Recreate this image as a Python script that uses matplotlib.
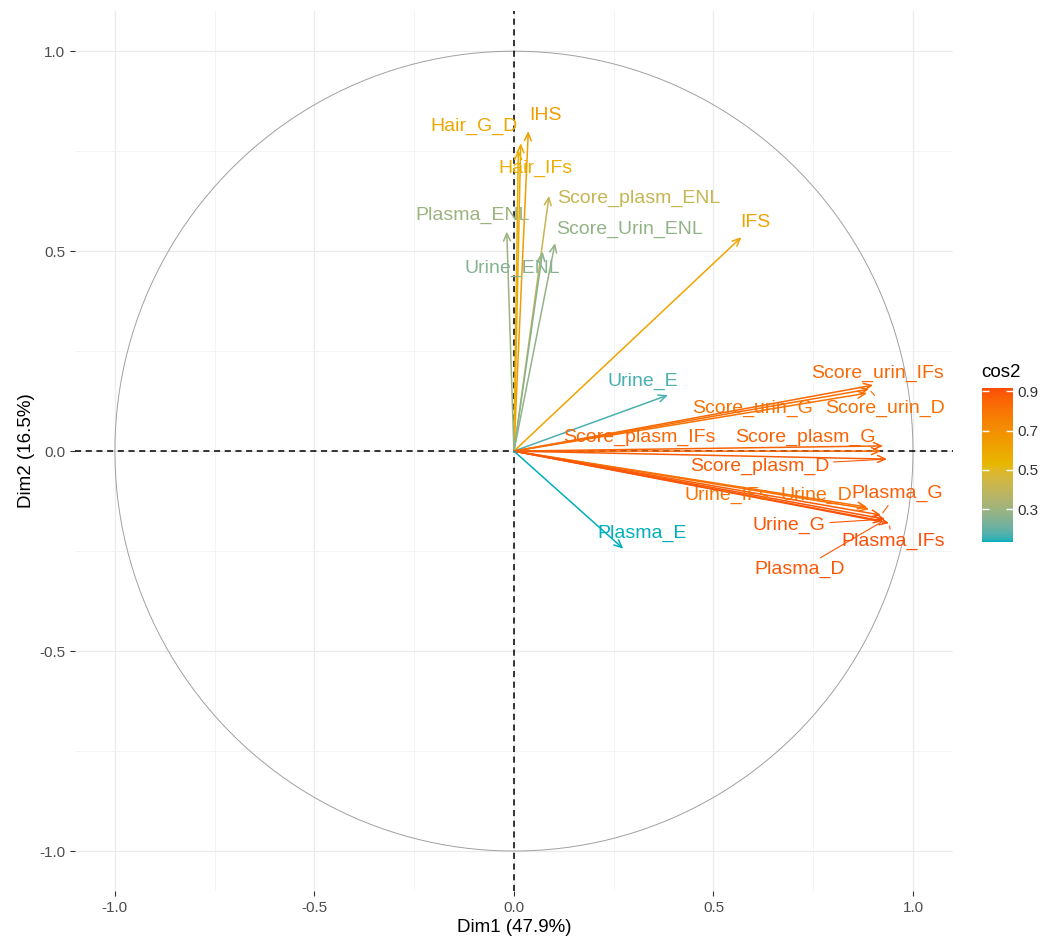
import numpy as np
import matplotlib.pyplot as plt
from matplotlib.colors import ListedColormap, Normalize, to_rgb
from matplotlib.cm import ScalarMappable

plt.rcParams['font.family'] = ['Liberation Sans', 'DejaVu Sans']
plt.rcParams['axes.unicode_minus'] = False

# PCA variable coordinates
variables = ["Hair_G_D", "IHS", "Hair_IFs", "Score_plasm_ENL", "Plasma_ENL",
             "Score_Urin_ENL", "Urine_ENL", "IFS", "Urine_E", "Score_urin_IFs",
             "Score_urin_G", "Score_urin_D", "Score_plasm_IFs", "Score_plasm_G",
             "Score_plasm_D", "Urine_IFs", "Urine_D", "Plasma_G", "Urine_G",
             "Plasma_IFs", "Plasma_D", "Plasma_E"]
dim1 = [0.017, 0.036, 0.011, 0.088, -0.018, 0.103, 0.072, 0.570, 0.386, 0.900,
        0.885, 0.890, 0.920, 0.925, 0.935, 0.885, 0.890, 0.920, 0.930, 0.940,
        0.925, 0.274]
dim2 = [0.770, 0.800, 0.753, 0.638, 0.549, 0.520, 0.499, 0.535, 0.140, 0.165,
        0.145, 0.155, 0.000, 0.013, -0.020, -0.140, -0.145, -0.160, -0.170,
        -0.180, -0.175, -0.244]
pct_dim1 = 47.9
pct_dim2 = 16.5
gradient_cols = ["#00AFBB", "#E7B800", "#FC4E07"]

# label placement (repel-like offsets from arrow tips, in data units)
label_offsets = {
    "Hair_G_D": (-0.117, 0.042), "IHS": (0.042, 0.040), "Hair_IFs": (0.042, -0.046),
    "Score_plasm_ENL": (0.225, -0.005), "Plasma_ENL": (-0.085, 0.041),
    "Score_Urin_ENL": (0.187, 0.035), "Urine_ENL": (-0.075, -0.042),
    "IFS": (0.036, 0.037), "Urine_E": (-0.063, 0.035),
    "Score_urin_IFs": (0.011, 0.030), "Score_urin_G": (-0.287, -0.037),
    "Score_urin_D": (0.041, -0.047), "Score_plasm_IFs": (-0.605, 0.035),
    "Score_plasm_G": (-0.194, 0.022), "Score_plasm_D": (-0.319, -0.017),
    "Urine_IFs": (-0.351, 0.030), "Urine_D": (-0.132, 0.035),
    "Plasma_G": (0.041, 0.055), "Urine_G": (-0.240, -0.015),
    "Plasma_IFs": (0.009, -0.047), "Plasma_D": (-0.209, -0.122),
    "Plasma_E": (0.046, 0.039),
}
leaders = ["Score_urin_D", "Score_plasm_G", "Score_plasm_D", "Urine_G",
           "Plasma_G", "Plasma_IFs", "Plasma_D"]


# ggplot-like gradient: interpolate in CIELAB
def to_lab(rgb):
    rgb = np.asarray(rgb, dtype=float)
    lin = np.where(rgb <= 0.04045, rgb / 12.92, ((rgb + 0.055) / 1.055) ** 2.4)
    m = np.array([[0.4124, 0.3576, 0.1805],
                  [0.2126, 0.7152, 0.0722],
                  [0.0193, 0.1192, 0.9505]])
    xyz = m @ lin / np.array([0.95047, 1.0, 1.08883])
    f = np.where(xyz > 0.008856, np.cbrt(xyz), 7.787 * xyz + 16 / 116)
    return np.array([116 * f[1] - 16, 500 * (f[0] - f[1]), 200 * (f[1] - f[2])])


def from_lab(lab):
    L, a, b = lab
    fy = (L + 16) / 116
    fx = fy + a / 500
    fz = fy - b / 200
    f = np.array([fx, fy, fz])
    xyz = np.where(f ** 3 > 0.008856, f ** 3, (f - 16 / 116) / 7.787)
    xyz = xyz * np.array([0.95047, 1.0, 1.08883])
    m = np.array([[3.2406, -1.5372, -0.4986],
                  [-0.9689, 1.8758, 0.0415],
                  [0.0557, -0.2040, 1.0570]])
    lin = m @ xyz
    rgb = np.where(lin <= 0.0031308, 12.92 * lin, 1.055 * np.clip(lin, 0, None) ** (1 / 2.4) - 0.055)
    return np.clip(rgb, 0, 1)


labs = [to_lab(to_rgb(c)) for c in gradient_cols]
ramp = []
for v in np.linspace(0, 1, 256):
    seg = min(int(v * 2), 1)
    w = v * 2 - seg
    ramp.append(from_lab((1 - w) * labs[seg] + w * labs[seg + 1]))
cmap = ListedColormap(ramp)

x = np.array(dim1)
y = np.array(dim2)
cos2 = x ** 2 + y ** 2
norm = Normalize(vmin=cos2.min(), vmax=cos2.max())

fig = plt.figure(figsize=(10.59, 9.41), dpi=100)
ax = fig.add_axes([0.0708, 0.0531, 0.829, 0.935])

ax.set_xlim(-1.1, 1.1)
ax.set_ylim(-1.1, 1.1)
ax.set_xticks([-1.0, -0.5, 0.0, 0.5, 1.0])
ax.set_yticks([-1.0, -0.5, 0.0, 0.5, 1.0])
ax.set_xticks([-0.75, -0.25, 0.25, 0.75], minor=True)
ax.set_yticks([-0.75, -0.25, 0.25, 0.75], minor=True)
ax.grid(which='major', color='#EBEBEB', lw=0.9)
ax.grid(which='minor', color='#F2F2F2', lw=0.6)
ax.set_axisbelow(True)
for s in ax.spines.values():
    s.set_visible(False)
ax.tick_params(which='major', length=3.5, width=0.8, color='#333333',
               labelsize=11, labelcolor='#4D4D4D')
ax.tick_params(which='minor', length=0)

t = np.linspace(0, 2 * np.pi, 400)
ax.plot(np.cos(t), np.sin(t), color='#A0A0A0', lw=0.7, zorder=1)
ax.axhline(0, color='black', lw=1.1, ls=(0, (4, 3)), zorder=2)
ax.axvline(0, color='black', lw=1.1, ls=(0, (4, 3)), zorder=2)

for name, xi, yi, c in zip(variables, x, y, cos2):
    col = cmap(norm(c))
    ax.annotate('', xy=(xi, yi), xytext=(0, 0),
                arrowprops=dict(arrowstyle='->,head_length=0.55,head_width=0.25',
                                color=col, lw=1.1, shrinkA=0, shrinkB=0),
                zorder=3)

for name, xi, yi, c in zip(variables, x, y, cos2):
    col = cmap(norm(c))
    dx, dy = label_offsets[name]
    props = None
    if name in leaders:
        props = dict(arrowstyle='-', color=col, lw=0.8, shrinkA=1, shrinkB=2)
    ax.annotate(name, xy=(xi, yi), xytext=(xi + dx, yi + dy), color=col,
                fontsize=14, ha='center', va='center', arrowprops=props,
                zorder=4)

ax.set_xlabel(f"Dim1 ({pct_dim1}%)", fontsize=13.5, color='black', labelpad=3)
ax.set_ylabel(f"Dim2 ({pct_dim2}%)", fontsize=13.5, color='black', labelpad=3)

cax = fig.add_axes([0.927, 0.424, 0.0293, 0.1637])
sm = ScalarMappable(norm=norm, cmap=cmap)
cb = fig.colorbar(sm, cax=cax, ticks=[0.3, 0.5, 0.7, 0.9])
cb.outline.set_visible(False)
cax.tick_params(direction='in', length=5, width=1, color='white',
                left=True, right=True, labelsize=11, labelcolor='#333333')
cax.set_title('cos2', loc='left', fontsize=13.5, pad=8)

fig.savefig('out.png', dpi=100)
